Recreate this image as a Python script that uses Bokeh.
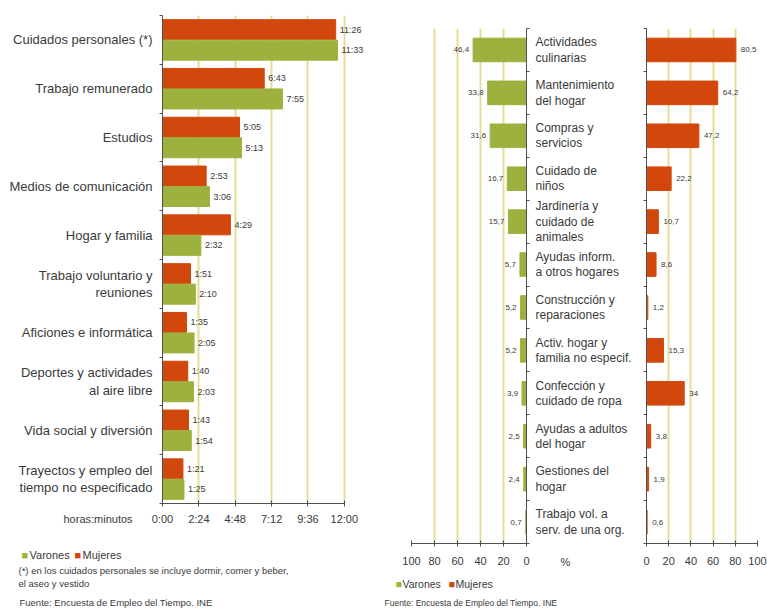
from bokeh.plotting import figure
from bokeh.layouts import row, column
from bokeh.models import Range1d, FixedTicker, ColumnDataSource
from bokeh.embed import file_html
from bokeh.resources import INLINE

FONT = "Liberation Sans"
RED = "#d2480c"
GREEN = "#9db23e"
GRID = "#e6dc96"
AXIS = "#505050"
TXT = "#3a3a3a"

# ---- Daily time spent on each activity (h:mm), by sex
activities = [
    "Cuidados personales (*)",
    "Trabajo remunerado",
    "Estudios",
    "Medios de comunicación",
    "Hogar y familia",
    "Trabajo voluntario y\nreuniones",
    "Aficiones e informática",
    "Deportes y actividades\nal aire libre",
    "Vida social y diversión",
    "Trayectos y empleo del\ntiempo no especificado",
]
time_women = ["11:26", "6:43", "5:05", "2:53", "4:29", "1:51", "1:35", "1:40", "1:43", "1:21"]
time_men = ["11:33", "7:55", "5:13", "3:06", "2:32", "2:10", "2:05", "2:03", "1:54", "1:25"]
time_ticks = ["0:00", "2:24", "4:48", "7:12", "9:36", "12:00"]

# ---- Share of people doing each household task (%), by sex
tasks = [
    "Actividades\nculinarias",
    "Mantenimiento\ndel hogar",
    "Compras y\nservicios",
    "Cuidado de\nniños",
    "Jardinería y\ncuidado de\nanimales",
    "Ayudas inform.\na otros hogares",
    "Construcción y\nreparaciones",
    "Activ. hogar y\nfamilia no especif.",
    "Confección y\ncuidado de ropa",
    "Ayudas a adultos\ndel hogar",
    "Gestiones del\nhogar",
    "Trabajo vol. a\nserv. de una org.",
]
pct_men = [46.4, 33.8, 31.6, 16.7, 15.7, 5.7, 5.2, 5.2, 3.9, 2.5, 2.4, 0.7]
pct_women = [80.5, 64.2, 47.2, 22.2, 10.7, 8.6, 1.2, 15.3, 34, 3.8, 1.9, 0.6]
pct_ticks = [0, 20, 40, 60, 80, 100]

legend_labels = ["Varones", "Mujeres"]
legend_colors = [GREEN, RED]
note_lines = ["(*) en los cuidados personales se incluye dormir, comer y beber,",
              "el aseo y vestido"]
source_line = "Fuente: Encuesta de Empleo del Tiempo. INE"


def to_minutes(hm):
    h, m = hm.split(":")
    return int(h) * 60 + int(m)


def pct_text(v):
    return str(int(v)) if float(v).is_integer() else f"{v:.1f}".replace(".", ",")


def style_common(p):
    p.outline_line_color = None
    p.background_fill_color = "white"
    p.border_fill_color = "white"
    p.ygrid.grid_line_color = None
    p.xgrid.grid_line_color = GRID
    p.xgrid.grid_line_width = 2
    for ax in p.axis:
        ax.axis_line_color = AXIS
        ax.major_tick_line_color = AXIS
        ax.minor_tick_line_color = AXIS
        ax.major_label_text_font = FONT
        ax.major_label_text_color = TXT


def caption(p, x, y, text, dx, dy, size, color=TXT):
    """Free text placed in pixels from a frame corner; drawn on the overlay level
    so it may sit in the border area."""
    p.text(x=[x], y=[y], text=[text], x_offset=dx, y_offset=dy,
           text_baseline="middle", text_font_size=size, text_color=color,
           text_font={"value": FONT}, level="overlay")


def key(p, x, y, dxs, dy, size):
    """Colour key: a square swatch followed by the series name, for each series."""
    for (dsq, dlab), lab, col in zip(dxs, legend_labels, legend_colors):
        caption(p, x, y, "\u25a0", dsq, dy, size, col)
        caption(p, x, y, lab, dlab, dy, size)


# ================= left chart: time use =================
n1 = len(activities)
src1 = ColumnDataSource(dict(
    y_w=[i + 0.29 for i in range(n1)],
    y_m=[i + 0.71 for i in range(n1)],
    w=[to_minutes(t) for t in time_women],
    m=[to_minutes(t) for t in time_men],
    lw=time_women,
    lm=time_men,
))
tick_min = [to_minutes(t) for t in time_ticks]

p1 = figure(width=383, height=616, x_range=Range1d(0, 800), y_range=Range1d(n1, 0),
            output_backend="svg", toolbar_location=None,
            min_border_left=162, min_border_right=19, min_border_top=15, min_border_bottom=113)
p1.hbar(y="y_w", left=0, right="w", height=0.41, source=src1,
        fill_color=RED, line_color=RED)
p1.hbar(y="y_m", left=0, right="m", height=0.41, source=src1,
        fill_color=GREEN, line_color=GREEN)
p1.text(x="w", y="y_w", text="lw", source=src1, x_offset=4, text_baseline="middle",
        text_font_size="9px", text_color=TXT, text_font={"value": FONT})
p1.text(x="m", y="y_m", text="lm", source=src1, x_offset=4, text_baseline="middle",
        text_font_size="9px", text_color=TXT, text_font={"value": FONT})
style_common(p1)
p1.xaxis.ticker = FixedTicker(ticks=tick_min)
p1.xaxis.major_label_overrides = {v: t for v, t in zip(tick_min, time_ticks)}
p1.xaxis.bounds = (tick_min[0], tick_min[-1])
p1.xaxis.major_tick_in = 3
p1.xaxis.major_tick_out = 3
p1.xaxis.major_label_text_font_size = "11px"
p1.xaxis.major_label_standoff = 6
p1.yaxis.ticker = FixedTicker(ticks=[i + 0.5 for i in range(n1)],
                              minor_ticks=list(range(n1 + 1)))
p1.yaxis.major_label_overrides = {i + 0.5: a for i, a in enumerate(activities)}
p1.yaxis.major_tick_out = 0
p1.yaxis.major_tick_in = 0
p1.yaxis.minor_tick_out = 3
p1.yaxis.minor_tick_in = 0
p1.yaxis.major_label_standoff = 7
p1.yaxis.major_label_text_font_size = "13px"
p1.yaxis.major_label_text_line_height = 1.15

caption(p1, 0, n1, "horas:minutos", -99, 15, "11px")
key(p1, 0, n1, [(-141, -133), (-88, -80)], 51, "11px")
caption(p1, 0, n1, note_lines[0], -144, 67, "9.5px")
caption(p1, 0, n1, note_lines[1], -144, 80, "9.5px")
caption(p1, 0, n1, source_line, -143, 99, "9.5px")

# ================= right chart: household tasks =================
n2 = len(tasks)
src2 = ColumnDataSource(dict(
    y=[i + 0.5 for i in range(n2)],
    men=pct_men,
    women=pct_women,
    lmen=[pct_text(v) for v in pct_men],
    lwomen=[pct_text(v) for v in pct_women],
))

# men: bars grow to the left, task names on the right-hand axis
p2 = figure(width=251, height=616, x_range=Range1d(100, 0), y_range=Range1d(n2, 0),
            y_axis_location="right", output_backend="svg", toolbar_location=None,
            min_border_left=28, min_border_right=106, min_border_top=28, min_border_bottom=73)
p2.hbar(y="y", left=0, right="men", height=0.55, source=src2,
        fill_color=GREEN, line_color=GREEN)
p2.text(x="men", y="y", text="lmen", source=src2, x_offset=-4, text_align="right",
        text_baseline="middle", text_font_size="8px", text_color=TXT,
        text_font={"value": FONT})
style_common(p2)
p2.xaxis.ticker = FixedTicker(ticks=pct_ticks)
p2.xaxis.major_tick_in = 3
p2.xaxis.major_tick_out = 3
p2.xaxis.major_label_text_font_size = "11px"
p2.xaxis.major_label_standoff = 10
p2.yaxis.ticker = FixedTicker(ticks=[i + 0.5 for i in range(n2)],
                              minor_ticks=list(range(n2 + 1)))
p2.yaxis.major_label_overrides = {i + 0.5: t for i, t in enumerate(tasks)}
p2.yaxis.major_tick_out = 0
p2.yaxis.major_tick_in = 0
p2.yaxis.minor_tick_out = 3
p2.yaxis.minor_tick_in = 0
p2.yaxis.major_label_standoff = 6
p2.yaxis.major_label_text_font_size = "12px"
p2.yaxis.major_label_text_line_height = 1.1

caption(p2, 100, n2, "%", 149, 18, "11px")
key(p2, 100, n2, [(-16, -9), (37, 44)], 40, "10.5px")
caption(p2, 100, n2, source_line, -27, 59, "8.5px")

# women: bars grow to the right
p3 = figure(width=133, height=616, x_range=Range1d(0, 100), y_range=Range1d(n2, 0),
            output_backend="svg", toolbar_location=None,
            min_border_left=12, min_border_right=10, min_border_top=28, min_border_bottom=73)
p3.hbar(y="y", left=0, right="women", height=0.55, source=src2,
        fill_color=RED, line_color=RED)
p3.text(x="women", y="y", text="lwomen", source=src2, x_offset=5,
        text_baseline="middle", text_font_size="8px", text_color=TXT,
        text_font={"value": FONT})
style_common(p3)
p3.xaxis.ticker = FixedTicker(ticks=pct_ticks)
p3.xaxis.major_tick_in = 3
p3.xaxis.major_tick_out = 3
p3.xaxis.major_label_text_font_size = "11px"
p3.xaxis.major_label_standoff = 10
p3.yaxis.ticker = FixedTicker(ticks=[], minor_ticks=list(range(n2 + 1)))
p3.yaxis.minor_tick_out = 3
p3.yaxis.minor_tick_in = 0

# separate columns keep each chart's frame at its own height
layout = row(column(p1, spacing=0), column(row(p2, p3, spacing=0), spacing=0), spacing=0)
open("out.html", "w").write(file_html(layout, INLINE))
